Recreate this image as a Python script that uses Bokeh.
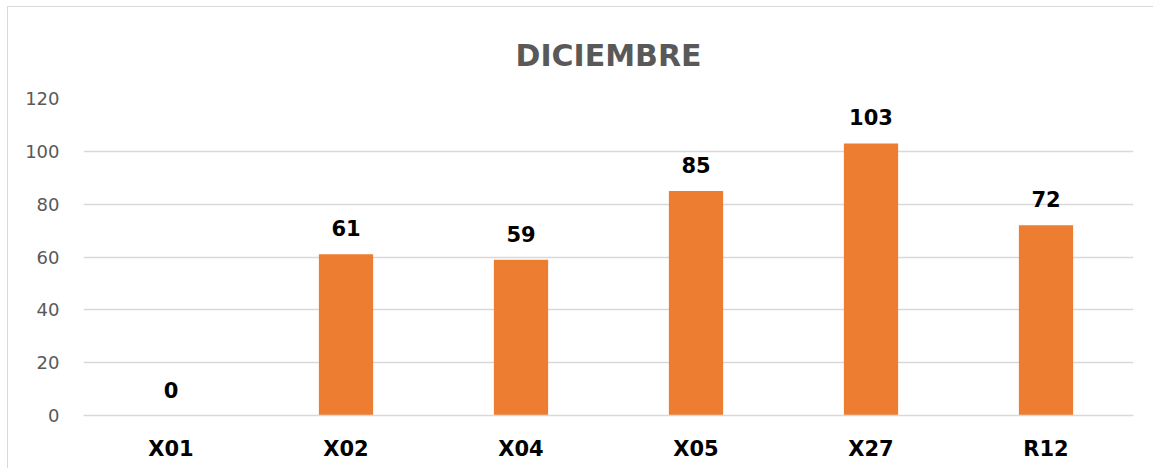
from bokeh.plotting import figure
from bokeh.models import ColumnDataSource, Range1d, FixedTicker, LabelSet
from bokeh.core.properties import value
from bokeh.embed import file_html
from bokeh.resources import INLINE

title_text = "DICIEMBRE"
categories = ["X01", "X02", "X04", "X05", "X27", "R12"]
values = [0, 61, 59, 85, 103, 72]
y_ticks = [0, 20, 40, 60, 80, 100, 120]

src = ColumnDataSource(dict(cat=categories, val=values, lbl=[str(v) for v in values]))

p = figure(x_range=categories, y_range=Range1d(0, 120), width=1146, height=462,
           output_backend="svg", toolbar_location=None,
           min_border_left=75, min_border_right=21, min_border_top=91, min_border_bottom=54)
p.styles = {"margin-left": "7px", "margin-top": "6px",
            "border-left": "1.5px solid #d9d9d9", "border-top": "1.5px solid #d9d9d9"}

p.title.text = title_text
p.title.align = "center"
p.title.vertical_align = "top"
p.title.text_font = "DejaVu Sans"
p.title.text_font_size = "30px"
p.title.text_font_style = "bold"
p.title.text_color = "#595959"
p.title.standoff = 48

p.vbar(x="cat", top="val", width=0.31, source=src, color="#ED7D31", line_color=None)

labels = LabelSet(x="cat", y="val", text="lbl", source=src, text_align="center",
                  text_baseline="bottom", y_offset=18, text_font=value("DejaVu Sans"),
                  text_font_size="21px", text_font_style="bold", text_color="#000000")
p.add_layout(labels)

p.outline_line_color = None
p.xgrid.grid_line_color = None
p.ygrid.grid_line_color = "#d9d9d9"
p.ygrid.grid_line_width = 1.3

p.yaxis.ticker = FixedTicker(ticks=y_ticks)
p.yaxis.axis_line_color = None
p.yaxis.major_tick_line_color = None
p.yaxis.minor_tick_line_color = None
p.yaxis.major_label_text_font = "DejaVu Sans"
p.yaxis.major_label_text_font_size = "18px"
p.yaxis.major_label_text_color = "#595959"
p.yaxis.major_label_standoff = 18

p.xaxis.axis_line_color = "#d9d9d9"
p.xaxis.axis_line_width = 1.3
p.xaxis.major_tick_line_color = None
p.xaxis.minor_tick_line_color = None
p.xaxis.major_label_text_font = "DejaVu Sans"
p.xaxis.major_label_text_font_size = "21px"
p.xaxis.major_label_text_font_style = "bold"
p.xaxis.major_label_text_color = "#000000"
p.xaxis.major_label_standoff = 15

open("out.html", "w").write(file_html(p, INLINE))
